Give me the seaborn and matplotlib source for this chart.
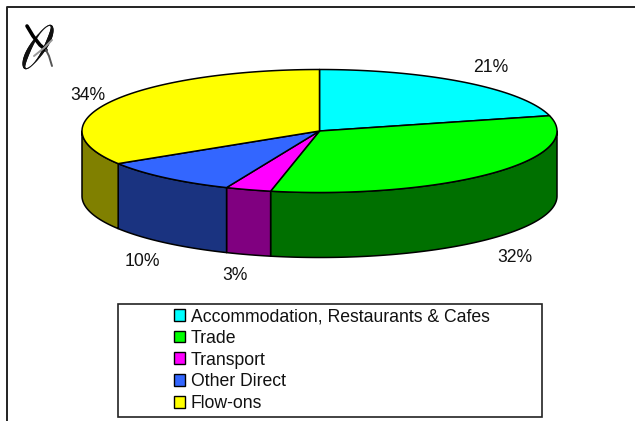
import matplotlib
matplotlib.use("Agg")
import matplotlib.pyplot as plt
from matplotlib.patches import Patch, Rectangle
import numpy as np
import seaborn as sns

categories = ["Accommodation, Restaurants & Cafes", "Trade", "Transport", "Other Direct", "Flow-ons"]
shares = [21.0, 32.3, 3.1, 9.7, 33.9]
top_colors = ["#00FFFF", "#00FF00", "#FF00FF", "#3366FF", "#FFFF00"]
side_colors = ["#008080", "#007000", "#800080", "#1A3380", "#808000"]

sns.set_theme(style="white")
plt.rcParams['font.family'] = ['Liberation Sans', 'DejaVu Sans']

font_size = 12.7
cx, cy, rx, ry = 319.5, 131, 237.5, 61.5
depth = 65
label_offset = [(171, -64), (195, 126), (-85, 144), (-177, 130.5), (-232, -36)]

def rim(a0, a1):
    # points on the ellipse, angle clockwise from twelve o'clock
    a = np.deg2rad(np.linspace(a0, a1, max(int(abs(a1 - a0)) * 2, 2)))
    return cx + rx * np.sin(a), cy - ry * np.cos(a)

fig = plt.figure(figsize=(6.35, 4.21), dpi=100)
ax = fig.add_axes([0, 0, 1, 1])
ax.set_xlim(0, 635)
ax.set_ylim(421, 0)
ax.axis("off")

# outer frame, only top and left are inside the picture
ax.plot([6.5, 6.5, 640], [425, 6.5, 6.5], color="#222222", lw=1.4)

# logo
t = np.linspace(0, 2 * np.pi, 80)
u = 6.5 * np.cos(t)
v = 25 * np.sin(t)
rot = np.deg2rad(31)
lx = 38 + u * np.cos(rot) + v * np.sin(rot)
ly = 47 + u * np.sin(rot) - v * np.cos(rot)
for i in range(len(t) - 1):
    w = 0.7 + 2.4 * abs(np.cos(t[i] - 0.5)) ** 3
    ax.plot(lx[i:i + 2], ly[i:i + 2], color="#111111", lw=w, solid_capstyle="round")
ax.plot([27, 33, 40, 46], [26, 36, 45, 50], color="black", lw=2.6, solid_capstyle="round")
ax.plot([46, 49, 52], [50, 56, 66], color="#555555", lw=1.4, solid_capstyle="round")
ax.plot([34, 44, 52], [56, 48, 40], color="#999999", lw=1.4)

# slices
edges = np.concatenate([[0], np.cumsum(shares)]) * 3.6
for i in range(len(shares)):
    a0, a1 = max(edges[i], 90), min(edges[i + 1], 270)
    if a1 > a0:
        x, y = rim(a0, a1)
        ax.fill(np.r_[x, x[::-1]], np.r_[y, y[::-1] + depth],
                facecolor=side_colors[i], edgecolor="black", lw=1.1, joinstyle="round")
for i in range(len(shares)):
    x, y = rim(edges[i], edges[i + 1])
    ax.fill(np.r_[cx, x], np.r_[cy, y],
            facecolor=top_colors[i], edgecolor="black", lw=1.1, joinstyle="round")

for i in range(len(shares)):
    ax.text(cx + label_offset[i][0], cy + label_offset[i][1], f"{shares[i]:.0f}%",
            ha="center", va="center", fontsize=font_size, color="#111111")

# legend box
ax.add_patch(Rectangle((118, 303.5), 423.5, 113, facecolor="white", edgecolor="#222222", lw=1.2))
handles = [Patch(facecolor=c, edgecolor="black", lw=1) for c in top_colors]
leg = ax.legend(handles, categories, loc="upper left", bbox_to_anchor=(174 / 635, 1 - 308 / 421),
                bbox_transform=ax.transAxes, frameon=False, fontsize=font_size, ncol=1,
                borderpad=0, borderaxespad=0, handlelength=0.65, handleheight=0.65,
                handletextpad=0.3, labelspacing=0.27, labelcolor="#111111")

fig.savefig("out.png", dpi=100, facecolor="white")
